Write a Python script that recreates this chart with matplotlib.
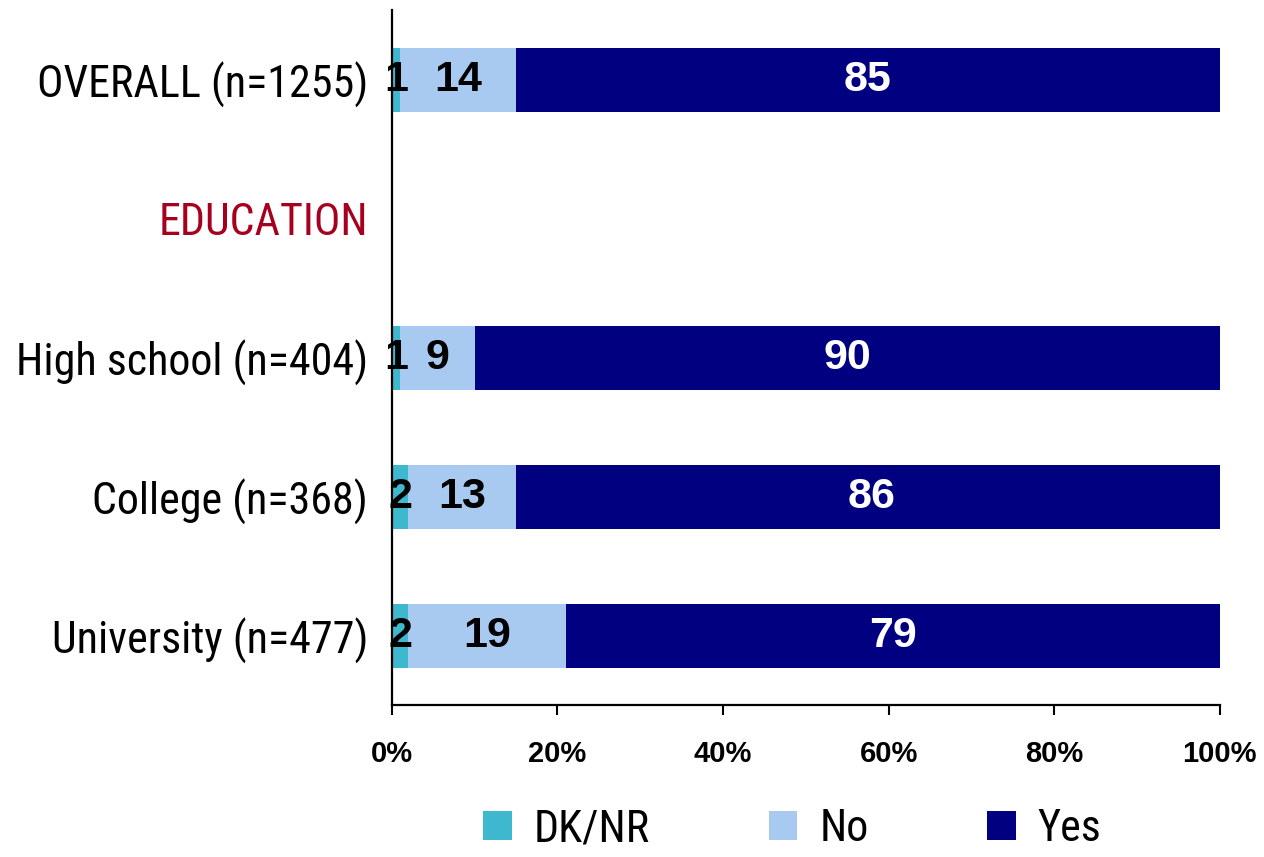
import matplotlib
matplotlib.use("Agg")
import matplotlib.pyplot as plt
from matplotlib import font_manager as fm
from matplotlib.patches import Patch
import numpy as np

categories = ["OVERALL (n=1255)", "EDUCATION", "High school (n=404)", "College (n=368)", "University (n=477)"]
dknr = [1, None, 1, 2, 2]
no = [14, None, 9, 13, 19]
yes = [85, None, 90, 86, 79]
ticks = [0, 20, 40, 60, 80, 100]
tickLabels = ["0%", "20%", "40%", "60%", "80%", "100%"]

couleurs = {"DK/NR": "#3db8cf", "No": "#a9caf0", "Yes": "#000080"}

# police etroite si disponible, sinon Liberation Sans
etroites = [f for f in fm.fontManager.ttflist
            if ("Narrow" in f.name or "Condensed" in f.name or f.stretch in ("condensed", "semi-condensed"))
            and f.weight in (400, "normal", "regular", "book") and f.style == "normal"]
etroites.sort(key=lambda f: ("Liberation" not in f.name, "Roboto" not in f.name))
if etroites:
    policeEtroite = fm.FontProperties(fname=etroites[0].fname)
else:
    policeEtroite = fm.FontProperties(family="Liberation Sans")
gras = ["Liberation Sans", "DejaVu Sans"]

fig = plt.figure(figsize=(12.64, 8.57), dpi=100)

# taille ajustee pour que le plus long libelle fasse ~350 px de large
essai = fig.text(0, 0, "High school (n=404)", fontproperties=policeEtroite, fontsize=34)
fig.canvas.draw()
largeur = essai.get_window_extent().width
essai.remove()
taille = min(34, 34 * 352 / largeur)
policeEtroite.set_size(taille)

axe = fig.add_axes([0.310, 0.177, 0.655, 0.811])

y = np.arange(len(categories))
hauteur = 0.46
for i in range(len(categories)):
    if dknr[i] is None:
        continue
    gauche = 0
    for serie, valeurs, couleurTexte in [("DK/NR", dknr, "black"), ("No", no, "black"), ("Yes", yes, "white")]:
        v = valeurs[i]
        axe.barh(y[i], v, left=gauche, height=hauteur, color=couleurs[serie], linewidth=0)
        axe.text(gauche + v / 2, y[i], str(v), ha="center", va="center",
                 color=couleurTexte, fontsize=31, fontweight="bold", family=gras)
        gauche += v

axe.set_xlim(0, 100)
axe.set_ylim(4.5, -0.5)
axe.set_yticks(y)
axe.set_yticklabels(categories)
for lib in axe.get_yticklabels():
    lib.set_fontproperties(policeEtroite)
axe.get_yticklabels()[1].set_color("#a6001e")
axe.tick_params(axis="y", length=0, pad=17)
axe.set_xticks(ticks)
axe.set_xticklabels(tickLabels, family=gras, fontsize=21, fontweight="bold")
axe.tick_params(axis="x", length=7, width=1.5, pad=18, direction="out")

for cote in ["top", "right"]:
    axe.spines[cote].set_visible(False)
for cote in ["left", "bottom"]:
    axe.spines[cote].set_linewidth(1.6)

poignees = [Patch(facecolor=couleurs[k], label=k) for k in ["DK/NR", "No", "Yes"]]
fig.legend(handles=poignees, loc="lower center", bbox_to_anchor=(0.627, -0.038), ncol=3,
           frameon=False, prop=policeEtroite, handlelength=0.65,
           handleheight=0.65, handletextpad=0.5, columnspacing=2.7)

fig.savefig("out.png", dpi=100)
